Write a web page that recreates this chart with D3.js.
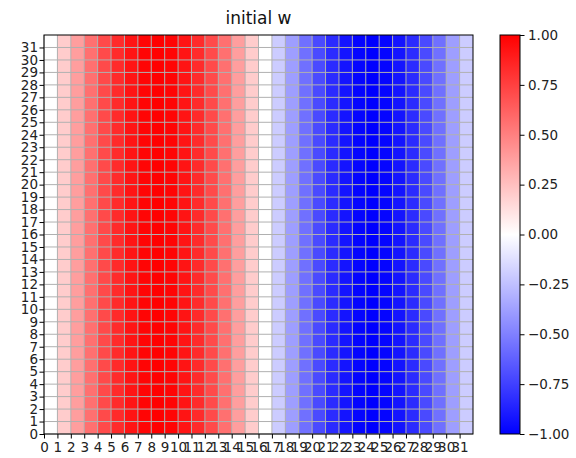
<!DOCTYPE html>
<html>
<head>
<meta charset="utf-8">
<script src="https://cdn.jsdelivr.net/npm/d3@7"></script>
<style>
  html, body { margin: 0; padding: 0; background: #fff; }
  svg { display: block; font-family: "DejaVu Sans", sans-serif; }
</style>
</head>
<body>
<svg id="chart" width="576" height="458"></svg>
<script>
// ---- data ----
const title = "initial w";
const columns = [0,1,2,3,4,5,6,7,8,9,10,11,12,13,14,15,16,17,18,19,20,21,22,23,24,25,26,27,28,29,30,31];
const rows    = [0,1,2,3,4,5,6,7,8,9,10,11,12,13,14,15,16,17,18,19,20,21,22,23,24,25,26,27,28,29,30,31];
// value of w in each column (identical for every row)
const columnValues = [0.00, 0.20, 0.38, 0.56, 0.71, 0.83, 0.92, 0.98,
                      1.00, 0.98, 0.92, 0.83, 0.71, 0.56, 0.38, 0.20,
                      0.00, -0.20, -0.38, -0.56, -0.71, -0.83, -0.92, -0.98,
                      -1.00, -0.98, -0.92, -0.83, -0.71, -0.56, -0.38, -0.20];
const colorbarTicks = [1.00, 0.75, 0.50, 0.25, 0.00, -0.25, -0.50, -0.75, -1.00];

// ---- build matrix ----
const cells = [];
rows.forEach(r => columns.forEach((c, i) => cells.push({row: r, col: c, value: columnValues[i]})));

// ---- layout ----
const svg = d3.select("#chart");
const plot = {left: 44, right: 473, top: 35, bottom: 434};
const cbar = {left: 500, right: 520, top: 35, bottom: 434};

const x = d3.scaleLinear().domain([0, columns.length]).range([plot.left, plot.right]);
const y = d3.scaleLinear().domain([0, rows.length]).range([plot.bottom, plot.top]);

// bwr colormap (blue - white - red)
function bwr(v) {
  const t = Math.max(0, Math.min(1, (v + 1) / 2));
  let r, g, b;
  if (t < 0.5) { r = 2 * t; g = 2 * t; b = 1; }
  else { r = 1; g = 2 - 2 * t; b = 2 - 2 * t; }
  return d3.rgb(r * 255, g * 255, b * 255).toString();
}

// cells
svg.append("g").selectAll("rect").data(cells).join("rect")
  .attr("x", d => x(d.col))
  .attr("y", d => y(d.row + 1))
  .attr("width", d => x(d.col + 1) - x(d.col) + 0.3)
  .attr("height", d => y(d.row) - y(d.row + 1) + 0.3)
  .attr("fill", d => bwr(d.value))
  .attr("shape-rendering", "crispEdges");

// grid
const grid = svg.append("g").attr("stroke", "#b0b0b0").attr("stroke-width", 1);
grid.selectAll("line.gx").data(columns).join("line").attr("class", "gx")
  .attr("x1", d => x(d)).attr("x2", d => x(d))
  .attr("y1", plot.top).attr("y2", plot.bottom);
grid.selectAll("line.gy").data(rows).join("line").attr("class", "gy")
  .attr("y1", d => y(d)).attr("y2", d => y(d))
  .attr("x1", plot.left).attr("x2", plot.right);

// axes
const xAxis = d3.axisBottom(x).tickValues(columns).tickFormat(d => String(d)).tickSize(4.5).tickSizeOuter(0);
const yAxis = d3.axisLeft(y).tickValues(rows).tickFormat(d => String(d)).tickSize(4.5).tickSizeOuter(0);

const gx = svg.append("g").attr("transform", `translate(0,${plot.bottom})`).call(xAxis);
const gy = svg.append("g").attr("transform", `translate(${plot.left},0)`).call(yAxis);
[gx, gy].forEach(g => {
  g.select(".domain").remove();
  g.selectAll(".tick line").attr("stroke", "#000").attr("stroke-width", 1);
  g.selectAll(".tick text").attr("fill", "#222").attr("font-size", 13.5)
    .attr("font-family", "DejaVu Sans, sans-serif");
});
gx.selectAll(".tick text").attr("dy", "0.95em").attr("y", 5);
gy.selectAll(".tick text").attr("x", -6);

// frame
svg.append("rect")
  .attr("x", plot.left).attr("y", plot.top)
  .attr("width", plot.right - plot.left).attr("height", plot.bottom - plot.top)
  .attr("fill", "none").attr("stroke", "#000").attr("stroke-width", 1);

// title
svg.append("text")
  .attr("x", (plot.left + plot.right) / 2).attr("y", 24)
  .attr("text-anchor", "middle").attr("font-size", 17).attr("fill", "#111")
  .text(title);

// colorbar
const defs = svg.append("defs");
const grad = defs.append("linearGradient").attr("id", "bwrgrad")
  .attr("x1", 0).attr("y1", 1).attr("x2", 0).attr("y2", 0);
const stops = [-1, -0.5, 0, 0.5, 1];
grad.selectAll("stop").data(stops).join("stop")
  .attr("offset", d => (d + 1) / 2)
  .attr("stop-color", d => bwr(d));

const cy = d3.scaleLinear().domain([-1, 1]).range([cbar.bottom, cbar.top]);
svg.append("rect")
  .attr("x", cbar.left).attr("y", cbar.top)
  .attr("width", cbar.right - cbar.left).attr("height", cbar.bottom - cbar.top)
  .attr("fill", "url(#bwrgrad)").attr("stroke", "#000").attr("stroke-width", 1);

const cAxis = d3.axisRight(cy).tickValues(colorbarTicks)
  .tickFormat(d => d3.format(".2f")(d).replace("-", "\u2212")).tickSize(4.5).tickSizeOuter(0);
const gc = svg.append("g").attr("transform", `translate(${cbar.right},0)`).call(cAxis);
gc.select(".domain").remove();
gc.selectAll(".tick line").attr("stroke", "#000").attr("stroke-width", 1);
gc.selectAll(".tick text").attr("fill", "#222").attr("font-size", 13.5)
  .attr("font-family", "DejaVu Sans, sans-serif").attr("x", 8);
</script>
</body>
</html>
